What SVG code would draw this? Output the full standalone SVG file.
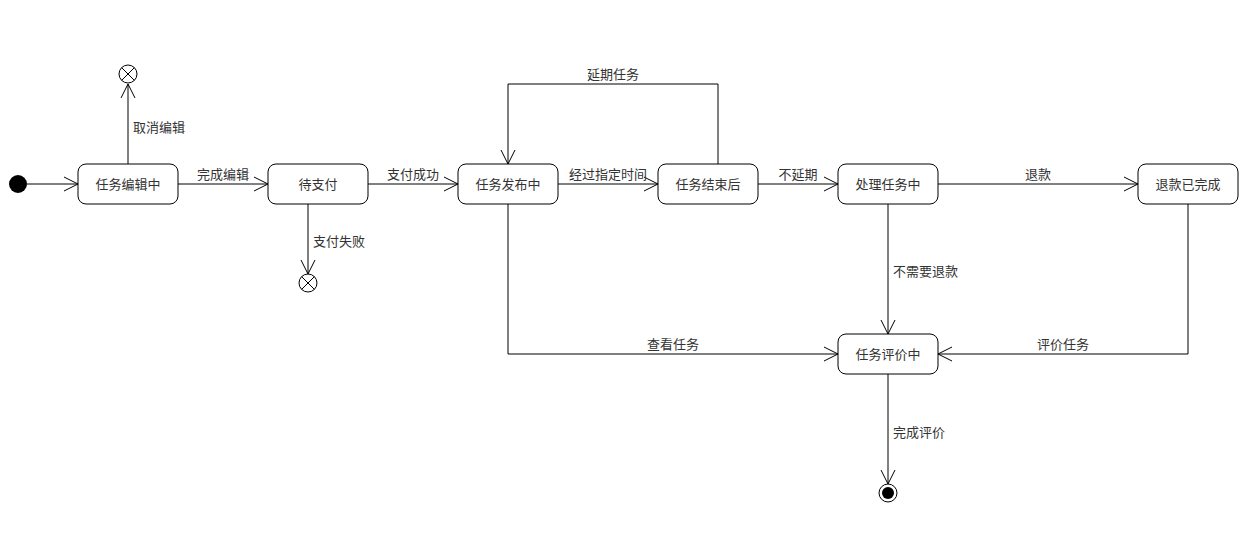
<svg xmlns="http://www.w3.org/2000/svg" width="1259" height="534" viewBox="0 0 1259 534">
<style>
.n{fill:#fff;stroke:#000;stroke-width:1}
.t{font-family:"Noto Sans CJK SC",sans-serif;font-size:13px;fill:#333;text-anchor:middle}
.l{font-family:"Noto Sans CJK SC",sans-serif;font-size:13px;fill:#333}
.c{fill:none;stroke:#000;stroke-width:1}
</style>
<defs>
<marker id="a" markerWidth="16" markerHeight="16" refX="15" refY="8" orient="auto" markerUnits="userSpaceOnUse">
<path d="M1,1 L15,8 L1,15" fill="none" stroke="#000"/>
</marker>
</defs>
<rect width="1259" height="534" fill="#fff"/>
<g id="connectors">
<path class="c" marker-end="url(#a)" d="M27,184 H78"/>
<path class="c" marker-end="url(#a)" d="M128,164 V84"/>
<path class="c" marker-end="url(#a)" d="M178,184 H268"/>
<path class="c" marker-end="url(#a)" d="M308,204 V274"/>
<path class="c" marker-end="url(#a)" d="M368,184 H458"/>
<path class="c" marker-end="url(#a)" d="M558,184 H658"/>
<path class="c" marker-end="url(#a)" d="M718,164 V84 H508 V164"/>
<path class="c" marker-end="url(#a)" d="M758,184 H838"/>
<path class="c" marker-end="url(#a)" d="M938,184 H1138"/>
<path class="c" marker-end="url(#a)" d="M888,204 V334"/>
<path class="c" marker-end="url(#a)" d="M508,204 V354 H838"/>
<path class="c" marker-end="url(#a)" d="M1188,204 V354 H938"/>
<path class="c" marker-end="url(#a)" d="M888,374 V484"/>
<text class="l" x="133" y="132">取消编辑</text>
<text class="t" x="223" y="179">完成编辑</text>
<text class="l" x="313" y="246">支付失败</text>
<text class="t" x="413" y="179">支付成功</text>
<text class="t" x="608" y="179">经过指定时间</text>
<text class="t" x="613" y="79">延期任务</text>
<text class="t" x="798" y="179">不延期</text>
<text class="t" x="1038" y="179">退款</text>
<text class="l" x="893" y="276">不需要退款</text>
<text class="t" x="673" y="349">查看任务</text>
<text class="t" x="1063" y="349">评价任务</text>
<text class="l" x="893" y="437">完成评价</text>
</g>
<g id="start"><circle cx="18" cy="184" r="9" fill="#000"/></g>
<g id="exit1"><circle class="n" cx="128" cy="74" r="9"/><path class="c" d="M121.6,67.6 L134.4,80.4 M134.4,67.6 L121.6,80.4"/></g>
<g id="exit2"><circle class="n" cx="308" cy="283" r="9"/><path class="c" d="M301.6,276.6 L314.4,289.4 M314.4,276.6 L301.6,289.4"/></g>
<g id="end"><circle class="n" cx="888" cy="493" r="9"/><circle cx="888" cy="493" r="6" fill="#000"/></g>
<g id="s1"><rect class="n" x="78" y="164" width="100" height="40" rx="8"/><text class="t" x="128" y="189">任务编辑中</text></g>
<g id="s2"><rect class="n" x="268" y="164" width="100" height="40" rx="8"/><text class="t" x="318" y="189">待支付</text></g>
<g id="s3"><rect class="n" x="458" y="164" width="100" height="40" rx="8"/><text class="t" x="508" y="189">任务发布中</text></g>
<g id="s4"><rect class="n" x="658" y="164" width="100" height="40" rx="8"/><text class="t" x="708" y="189">任务结束后</text></g>
<g id="s5"><rect class="n" x="838" y="164" width="100" height="40" rx="8"/><text class="t" x="888" y="189">处理任务中</text></g>
<g id="s6"><rect class="n" x="1138" y="164" width="100" height="40" rx="8"/><text class="t" x="1188" y="189">退款已完成</text></g>
<g id="s7"><rect class="n" x="838" y="334" width="100" height="40" rx="8"/><text class="t" x="888" y="359">任务评价中</text></g>
</svg>
